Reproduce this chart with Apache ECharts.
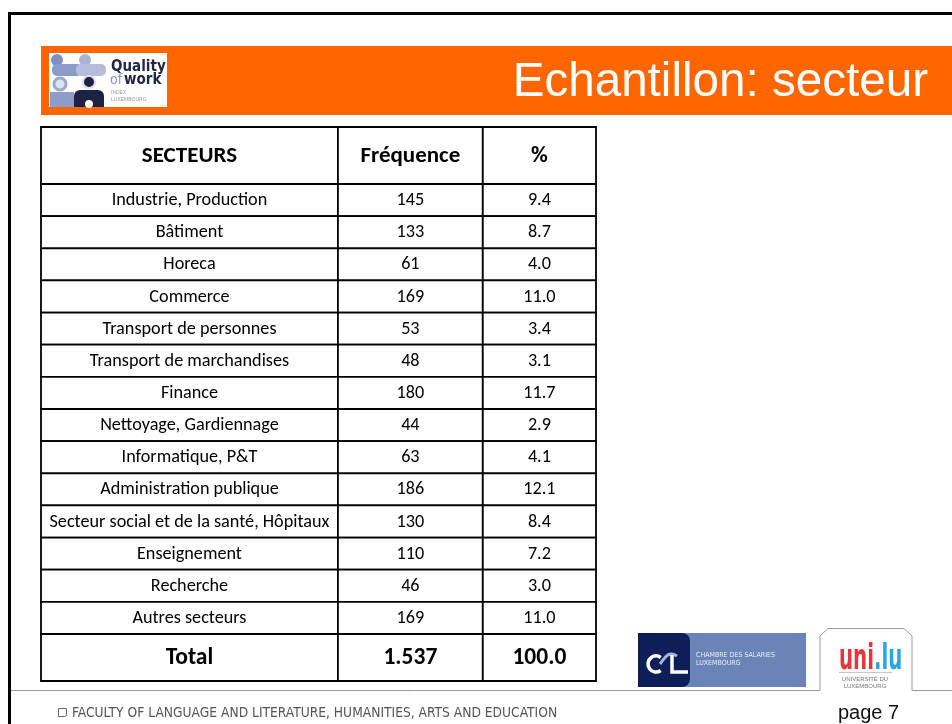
<!DOCTYPE html>
<html><head><meta charset="utf-8">
<script src="https://cdn.jsdelivr.net/npm/echarts@6/dist/echarts.min.js"></script>
<style>html,body{margin:0;padding:0;background:#fff}#c{width:952px;height:724px}</style>
</head><body><div id="c"></div>
<script>
// ---- data ----
const slideTitle = 'Echantillon: secteur';
const headers = ['SECTEURS', 'Fréquence', '%'];
const sectors = [
  'Industrie, Production', 'Bâtiment', 'Horeca', 'Commerce',
  'Transport de personnes', 'Transport de marchandises', 'Finance',
  'Nettoyage, Gardiennage', 'Informatique, P&T', 'Administration publique',
  'Secteur social et de la santé, Hôpitaux', 'Enseignement', 'Recherche', 'Autres secteurs'
];
const frequencies = [145, 133, 61, 169, 53, 48, 180, 44, 63, 186, 130, 110, 46, 169];
const percents = [9.4, 8.7, 4.0, 11.0, 3.4, 3.1, 11.7, 2.9, 4.1, 12.1, 8.4, 7.2, 3.0, 11.0];
const totalRow = ['Total', '1.537', '100.0'];
const footerText = 'FACULTY OF LANGUAGE AND LITERATURE, HUMANITIES, ARTS AND EDUCATION';
const pageLabel = 'page 7';

// ---- layout ----
const colEdges = [0, 0.535, 0.796, 1];
const tableFont = 'Carlito, Lato, "Open Sans", sans-serif';

function cellRenderer(getTexts, fontSize, fontWeight) {
  return function (params, api) {
    const row = api.value(0);
    const center = api.coord([0, row]);
    const h = api.size([0, 1])[1];
    const y0 = center[1] - h / 2;
    const texts = getTexts(params.dataIndex);
    const children = [];
    for (let k = 0; k < 3; k++) {
      const x0 = api.coord([colEdges[k], row])[0];
      const x1 = api.coord([colEdges[k + 1], row])[0];
      children.push({
        type: 'rect',
        shape: { x: x0, y: y0, width: x1 - x0, height: h },
        style: { fill: '#fff', stroke: '#000', lineWidth: 1.8 }
      });
      children.push({
        type: 'text',
        style: {
          text: texts[k], x: (x0 + x1) / 2, y: center[1] + 0.5,
          align: 'center', verticalAlign: 'middle',
          fontSize: fontSize, fontWeight: fontWeight, fontFamily: tableFont, fill: '#000'
        }
      });
    }
    return { type: 'group', children: children };
  };
}

const gridBox = { left: 41, width: 555 };
const chart = echarts.init(document.getElementById('c'), null, { renderer: 'canvas' });
const narrow = '"Liberation Sans Narrow", "DejaVu Sans Condensed", sans-serif';

const option = {
  backgroundColor: '#fff',
  animation: false,
  grid: [
    Object.assign({ top: 127, height: 57 }, gridBox),
    Object.assign({ top: 184, height: 450 }, gridBox),
    Object.assign({ top: 634, height: 47 }, gridBox)
  ],
  xAxis: [0, 1, 2].map(i => ({ type: 'value', min: 0, max: 1, gridIndex: i, show: false })),
  yAxis: [
    { type: 'category', data: ['header'], gridIndex: 0, inverse: true, show: false },
    { type: 'category', data: sectors, gridIndex: 1, inverse: true, show: false },
    { type: 'category', data: ['total'], gridIndex: 2, inverse: true, show: false }
  ],
  series: [
    {
      type: 'custom', xAxisIndex: 0, yAxisIndex: 0,
      data: [[0]], encode: { y: 0 },
      renderItem: cellRenderer(() => headers, 23, 'bold')
    },
    {
      type: 'custom', xAxisIndex: 1, yAxisIndex: 1,
      data: sectors.map((s, i) => [i]), encode: { y: 0 },
      renderItem: cellRenderer(i => [sectors[i], String(frequencies[i]), percents[i].toFixed(1)], 18.2, 'normal')
    },
    {
      type: 'custom', xAxisIndex: 2, yAxisIndex: 2,
      data: [[0]], encode: { y: 0 },
      renderItem: cellRenderer(() => totalRow, 23.5, 'bold')
    }
  ],
  graphic: [
    // slide frame
    { type: 'polyline', shape: { points: [[9.5, 724], [9.5, 13.5], [952, 13.5]] }, style: { stroke: '#000', lineWidth: 3, fill: null }, z: 10 },
    // orange header band
    { type: 'rect', shape: { x: 41, y: 46, width: 911, height: 69 }, style: { fill: '#ff6600' } },
    { type: 'text', style: { text: slideTitle, x: 928, y: 83, align: 'right', verticalAlign: 'middle', fontSize: 47.6, fontFamily: '"Liberation Sans", Arial, sans-serif', fill: '#fff' } },
    // Quality of work logo
    { type: 'rect', shape: { x: 49, y: 53, width: 118, height: 54 }, style: { fill: '#fdfdfd' } },
    { type: 'group', children: [
      { type: 'circle', shape: { cx: 57, cy: 60, r: 6 }, style: { fill: '#7f8fc4' } },
      { type: 'circle', shape: { cx: 85, cy: 60, r: 6 }, style: { fill: '#aab3d6' } },
      { type: 'rect', shape: { x: 52, y: 64, width: 30, height: 12, r: 5 }, style: { fill: '#8a9ac9' } },
      { type: 'rect', shape: { x: 76, y: 64, width: 30, height: 12, r: 5 }, style: { fill: '#b5bdda' } },
      { type: 'circle', shape: { cx: 60, cy: 84, r: 6 }, style: { fill: '#dfe3f0', stroke: '#9aa6cf', lineWidth: 3 } },
      { type: 'circle', shape: { cx: 89, cy: 82, r: 6 }, style: { fill: '#1d2142', stroke: '#d8dcee', lineWidth: 2 } },
      { type: 'rect', shape: { x: 50, y: 92, width: 24, height: 15 }, style: { fill: '#8f9bc8' } },
      { type: 'rect', shape: { x: 74, y: 90, width: 30, height: 17, r: [6, 6, 0, 0] }, style: { fill: '#1d2142' } },
      { type: 'circle', shape: { cx: 89, cy: 104, r: 4 }, style: { fill: '#fdfdfd' } }
    ] },
    { type: 'text', style: { text: 'Quality', x: 111, y: 67, verticalAlign: 'middle', fontSize: 15, fontWeight: 'bold', fontFamily: '"DejaVu Sans Condensed", "DejaVu Sans", sans-serif', fill: '#22264a' } },
    { type: 'text', style: { text: 'of', x: 110, y: 80, verticalAlign: 'middle', fontSize: 14, fontFamily: '"DejaVu Sans Condensed", "DejaVu Sans", sans-serif', fill: '#8c97c8' } },
    { type: 'text', style: { text: 'work', x: 124, y: 80, verticalAlign: 'middle', fontSize: 15, fontWeight: 'bold', fontFamily: '"DejaVu Sans Condensed", "DejaVu Sans", sans-serif', fill: '#22264a' } },
    { type: 'text', style: { text: 'INDEX', x: 111, y: 93, verticalAlign: 'middle', fontSize: 5, fontFamily: 'sans-serif', fill: '#9a9a9a' } },
    { type: 'text', style: { text: 'LUXEMBOURG', x: 111, y: 100, verticalAlign: 'middle', fontSize: 5, fontFamily: 'sans-serif', fill: '#9a9a9a' } },
    // footer line with tab
    { type: 'polyline', shape: { points: [[9, 690.5], [820, 690.5], [820, 636], [828, 628.5], [904, 628.5], [912, 636], [912, 690.5], [952, 690.5]] }, style: { stroke: '#9b9b9b', lineWidth: 1, fill: null } },
    // CSL logo
    { type: 'rect', shape: { x: 638, y: 633, width: 168, height: 54 }, style: { fill: '#6b84b7' } },
    { type: 'rect', shape: { x: 638, y: 633, width: 52, height: 54, r: [0, 8, 8, 0] }, style: { fill: '#0e1f58' } },
    { type: 'arc', shape: { cx: 656, cy: 664, r: 8, startAngle: Math.PI * 0.3, endAngle: Math.PI * 1.7, clockwise: true }, style: { stroke: '#fff', lineWidth: 3.5, fill: null } },
    { type: 'bezierCurve', shape: { x1: 660, y1: 664, cpx1: 665, cpy1: 658, cpx2: 668, cpy2: 650, x2: 677, y2: 656 }, style: { stroke: '#9fb4e0', lineWidth: 3, fill: null } },
    { type: 'polyline', shape: { points: [[672, 655], [672, 672], [688, 672]] }, style: { stroke: '#fff', lineWidth: 3.5, fill: null } },
    { type: 'text', style: { text: 'CHAMBRE DES SALARIES', x: 696, y: 655, verticalAlign: 'middle', fontSize: 7, fontFamily: narrow, fill: '#e8eef8' } },
    { type: 'text', style: { text: 'LUXEMBOURG', x: 696, y: 663, verticalAlign: 'middle', fontSize: 7, fontFamily: narrow, fill: '#e8eef8' } },
    // uni.lu logo
    { type: 'text', x: 839, y: 660, scaleY: 1.65, style: {
        text: '{a|uni}{b|.lu}', x: 0, y: 0, verticalAlign: 'middle', fontSize: 22, fontWeight: 'bold', fontFamily: narrow,
        rich: { a: { fontSize: 22, fontWeight: 'bold', fontFamily: narrow, fill: '#e8343c' }, b: { fontSize: 22, fontWeight: 'bold', fontFamily: narrow, fill: '#2aa6de' } } } },
    { type: 'line', shape: { x1: 839, y1: 672.5, x2: 892, y2: 672.5 }, style: { stroke: '#c8c8c8', lineWidth: 1 } },
    { type: 'text', style: { text: 'UNIVERSITÉ DU', x: 865, y: 679, align: 'center', verticalAlign: 'middle', fontSize: 6, fontFamily: 'sans-serif', fill: '#777' } },
    { type: 'text', style: { text: 'LUXEMBOURG', x: 865, y: 686, align: 'center', verticalAlign: 'middle', fontSize: 6, fontFamily: 'sans-serif', fill: '#777' } },
    // footer
    { type: 'rect', shape: { x: 58.5, y: 708.5, width: 8, height: 8, r: [0, 0, 2, 0] }, style: { fill: null, stroke: '#666', lineWidth: 1 } },
    { type: 'text', style: { text: footerText, x: 72, y: 713, verticalAlign: 'middle', fontSize: 13.7, fontFamily: narrow, fill: '#555' } },
    { type: 'text', style: { text: pageLabel, x: 838, y: 713, verticalAlign: 'middle', fontSize: 20, fontFamily: '"Liberation Sans", Arial, sans-serif', fill: '#111' } }
  ]
};
chart.setOption(option);
</script>
</body></html>
